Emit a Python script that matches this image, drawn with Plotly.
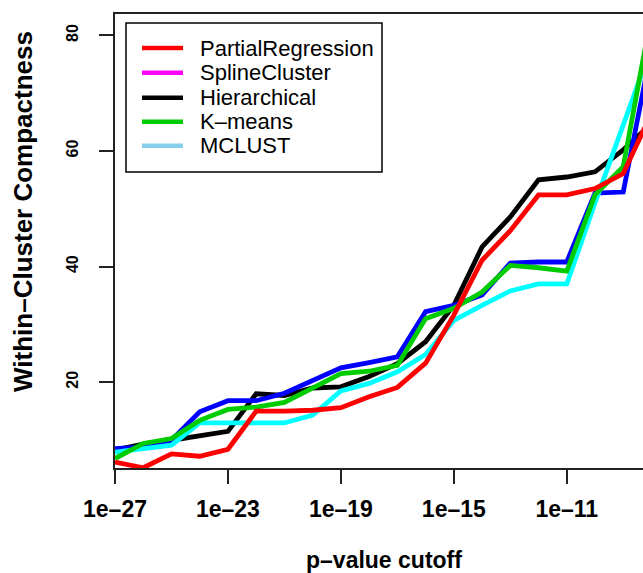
import plotly.graph_objects as go

# p-value cutoffs (one per decade)
cutoffs = [1e-27, 1e-26, 1e-25, 1e-24, 1e-23, 1e-22, 1e-21, 1e-20, 1e-19, 1e-18,
           1e-17, 1e-16, 1e-15, 1e-14, 1e-13, 1e-12, 1e-11, 1e-10, 1e-9, 1e-8]

# within-cluster compactness per method
partial_regression = [6.2, 5.2, 7.6, 7.2, 8.4, 15.0, 15.0, 15.15, 15.6, 17.5,
                      19.1, 23.3, 31.6, 41.1, 46.2, 52.4, 52.4, 53.5, 56.1, 66.5]
spline_cluster = [8.5, 8.8, 9.96, 14.9, 16.8, 16.8, 18.1, 20.4, 22.5, 23.4,
                  24.4, 32.2, 33.3, 35.1, 40.6, 40.8, 40.8, 52.7, 52.9, 77.7]
hierarchical = [8.3, 9.3, 9.96, 10.8, 11.5, 18.0, 17.7, 19.0, 19.2, 21.0,
                23.2, 27.0, 33.3, 43.4, 48.6, 55.0, 55.5, 56.4, 60.2, 64.7]
k_means = [6.8, 9.4, 10.25, 13.4, 15.3, 15.7, 16.5, 19.0, 21.5, 21.9,
           22.9, 31.0, 32.8, 35.6, 40.2, 39.8, 39.2, 52.4, 57.3, 83.7]
mclust = [7.9, 8.6, 9.1, 12.95, 12.95, 12.95, 12.95, 14.3, 18.5, 19.8,
          21.8, 24.8, 30.7, 33.3, 35.8, 37.0, 37.0, 51.0, 64.5, 78.0]

# legend entries as labelled
legend_labels = ["PartialRegression", "SplineCluster", "Hierarchical", "K\u2013means", "MCLUST"]
legend_colors = ["#FF0000", "#FF00FF", "#000000", "#00CD00", "#87CEEB"]

x_tickvals = [1e-27, 1e-23, 1e-19, 1e-15, 1e-11]
x_ticktext = ["1e\u201327", "1e\u201323", "1e\u201319", "1e\u201315", "1e\u201311"]
y_tickvals = [20, 40, 60, 80]

W, H = 643, 573
L, R, T, B = 115, 0, 14, 105
PW, PH = W - L - R, H - T - B

def px(xp):
    return (xp - L) / PW

def py(yp):
    return (H - B - yp) / PH

fig = go.Figure()

series = [
    (hierarchical, "#000000"),
    (spline_cluster, "#0000FF"),
    (mclust, "#00FFFF"),
    (k_means, "#00CD00"),
    (partial_regression, "#FF0000"),
]
for ys, col in series:
    fig.add_trace(go.Scatter(x=cutoffs, y=ys, mode="lines",
                             line=dict(color=col, width=4.8),
                             showlegend=False, hoverinfo="skip"))

# legend box drawn in plot-area coordinates
shapes = [dict(type="rect", xref="paper", yref="paper",
               x0=px(126), x1=px(382), y0=py(172), y1=py(23),
               line=dict(color="black", width=1.5), fillcolor="white", layer="above")]
annotations = []
row_y = [48, 72.7, 97.7, 121.7, 145.7]
for lab, col, yy in zip(legend_labels, legend_colors, row_y):
    shapes.append(dict(type="line", xref="paper", yref="paper",
                       x0=px(142), x1=px(183), y0=py(yy), y1=py(yy),
                       line=dict(color=col, width=4.5), layer="above"))
    annotations.append(dict(xref="paper", yref="paper", x=px(198), y=py(yy),
                            text=lab, showarrow=False, xanchor="left", yanchor="middle",
                            font=dict(family="Liberation Sans", size=22, color="black")))

annotations.append(dict(xref="paper", yref="paper", x=px(23), y=py(212),
                        text="Within\u2013Cluster Compactness", textangle=-90,
                        showarrow=False, xanchor="center", yanchor="middle",
                        font=dict(family="Liberation Sans", size=26, color="black",
                                  weight="bold")))
annotations.append(dict(xref="paper", yref="paper", x=px(384), y=py(560),
                        text="p\u2013value cutoff",
                        showarrow=False, xanchor="center", yanchor="middle",
                        font=dict(family="Liberation Sans", size=23, color="black",
                                  weight="bold")))

fig.update_layout(
    width=W, height=H,
    margin=dict(l=L, r=R, t=T, b=B, pad=0),
    paper_bgcolor="white", plot_bgcolor="white",
    shapes=shapes, annotations=annotations,
    xaxis=dict(type="log", range=[-27, -8.3], tickvals=x_tickvals, ticktext=x_ticktext,
               showgrid=False, zeroline=False, showline=True, mirror=True,
               linecolor="#222222", linewidth=1.5, ticks="outside", ticklen=14,
               tickwidth=1.5, tickcolor="#222222",
               tickfont=dict(family="Liberation Sans", size=23, color="black",
                             weight="bold"),
               ticklabelstandoff=6),
    yaxis=dict(range=[5.16, 83.7], tickvals=y_tickvals,
               showgrid=False, zeroline=False, showline=True, mirror=False,
               linecolor="#222222", linewidth=1.5, ticks="outside", ticklen=14,
               tickwidth=1.5, tickcolor="#222222", tickangle=-90,
               tickfont=dict(family="Liberation Sans", size=16, color="black",
                             weight="bold"),
               ticklabelstandoff=15),
)

fig.write_html("out.html")
